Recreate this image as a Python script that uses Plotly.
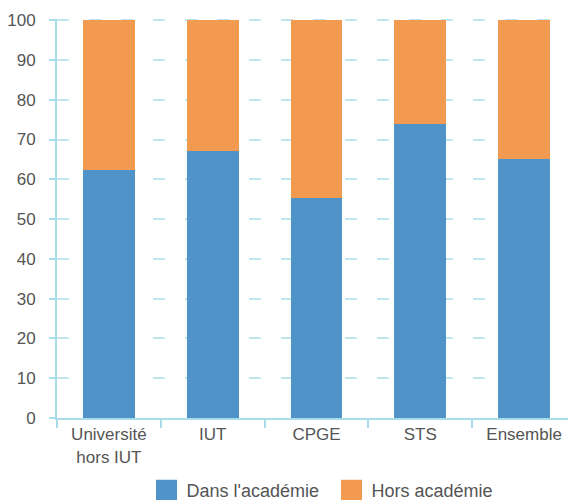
import plotly.graph_objects as go

categories = ["Université<br>hors IUT", "IUT", "CPGE", "STS", "Ensemble"]
dans_academie = [62.4, 67.0, 55.4, 74.0, 65.0]
hors_academie = [37.6, 33.0, 44.6, 26.0, 35.0]
series_names = ["Dans l'académie", "Hors académie"]
y_ticks = [0, 10, 20, 30, 40, 50, 60, 70, 80, 90, 100]

BLUE = "#4f93c9"
ORANGE = "#f19a50"
AXIS = "#a9dce9"
GRID = "#bfe6ef"
TEXT = "#555555"
FONT = "Liberation Sans, Arial, sans-serif"

fig = go.Figure()
for name, vals, col in [(series_names[0], dans_academie, BLUE), (series_names[1], hors_academie, ORANGE)]:
    fig.add_trace(go.Bar(x=categories, y=vals, name=name, marker=dict(color=col, line=dict(width=0)),
                         showlegend=False))
# legend-only entries with larger square symbols
for name, col in [(series_names[0], BLUE), (series_names[1], ORANGE)]:
    fig.add_trace(go.Scatter(x=[None], y=[None], mode="markers", name=name,
                             marker=dict(symbol="square", size=16, color=col,
                                         line=dict(color=col, width=5))))

fig.update_layout(
    width=568, height=492,
    barmode="stack", bargap=0.5,
    margin=dict(l=49, r=0, t=11, b=82, autoexpand=False),
    plot_bgcolor="white", paper_bgcolor="white",
    font=dict(family=FONT, size=17, color=TEXT),
    legend=dict(orientation="h", x=0.1724, xanchor="left", y=-0.228, yanchor="bottom",
                font=dict(family=FONT, size=18, color=TEXT), traceorder="normal",
                itemwidth=30, tracegroupgap=0, entrywidth=140, entrywidthmode="pixels"),
)
fig.update_xaxes(
    type="category", showline=True, linecolor=AXIS, linewidth=2,
    ticks="outside", ticklen=8, tickwidth=2, tickcolor=AXIS, tickson="boundaries",
    showgrid=False, tickfont=dict(family=FONT, size=17, color=TEXT),
)
fig.update_yaxes(
    range=[0, 100.3], tickvals=y_ticks, showline=True, linecolor=AXIS, linewidth=2,
    ticks="outside", ticklen=6, tickwidth=2, tickcolor=AXIS,
    showgrid=True, gridcolor=GRID, gridwidth=2, griddash="12px,20px",
    zeroline=False, ticklabelstandoff=10, tickfont=dict(family=FONT, size=17, color=TEXT),
)

fig.write_html("out.html")
